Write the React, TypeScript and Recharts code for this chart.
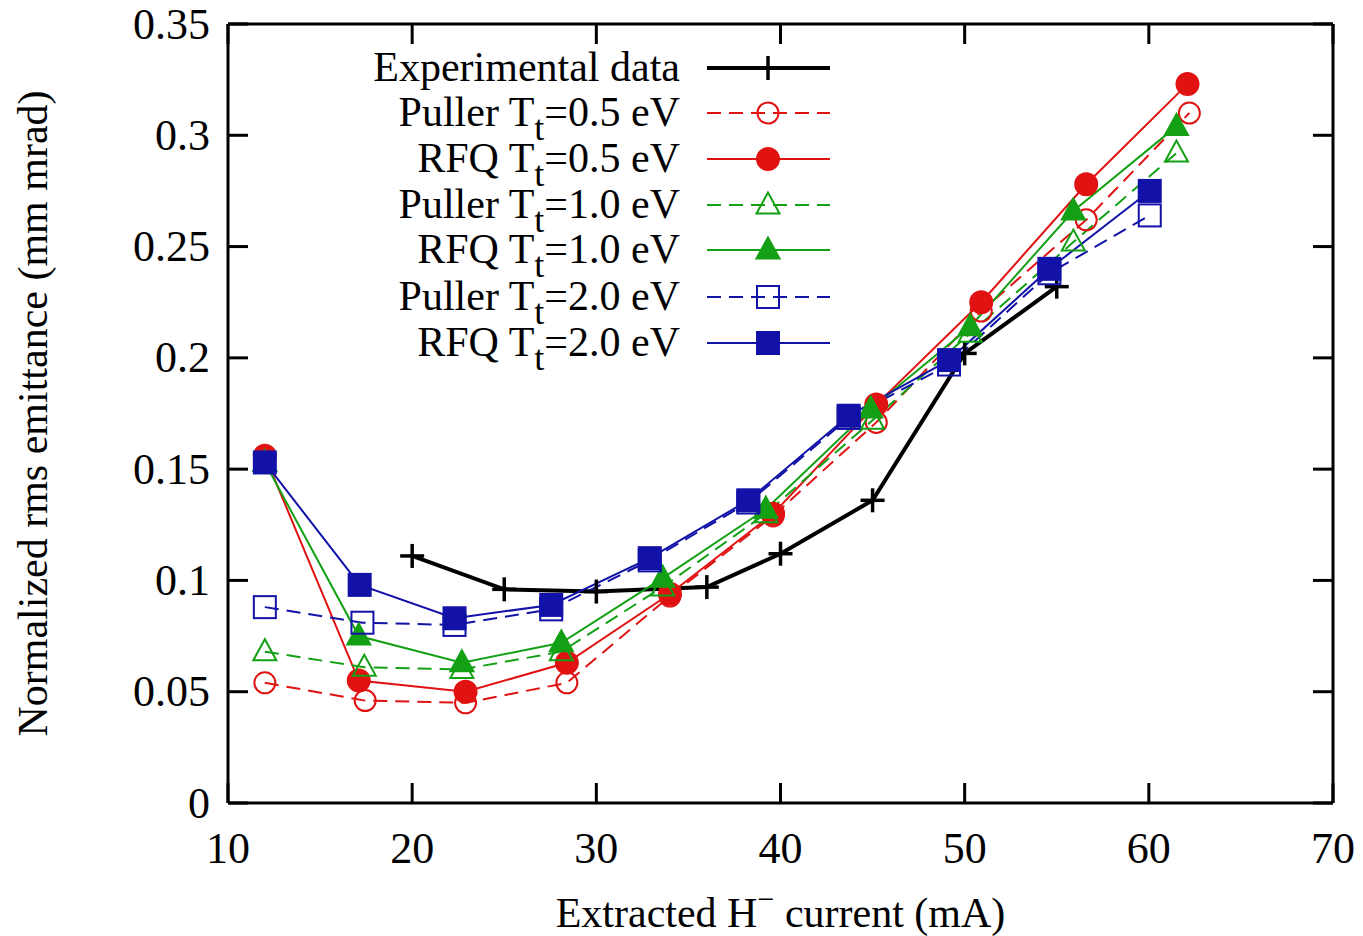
import React from "react";
import { Legend, Line, LineChart, XAxis, YAxis } from "recharts";

// x = extracted current (mA), y = normalized rms emittance (mm mrad)
const expX = [20, 25, 30, 36, 40, 45, 50, 55];
const expY = [0.111, 0.096, 0.095, 0.097, 0.112, 0.136, 0.202, 0.232];

const pullerHalfX = [12, 17.45, 22.9, 28.4, 34.0, 39.6, 45.2, 50.9, 56.6, 62.2];
const pullerHalfY = [0.054, 0.046, 0.045, 0.054, 0.093, 0.129, 0.171, 0.221, 0.262, 0.31];
const rfqHalfX = [12, 17.1, 22.9, 28.4, 34.0, 39.6, 45.2, 50.9, 56.6, 62.1];
const rfqHalfY = [0.156, 0.055, 0.05, 0.063, 0.094, 0.13, 0.179, 0.225, 0.278, 0.323];

const pullerOneX = [12, 17.4, 22.7, 28.1, 33.6, 39.2, 45.0, 50.3, 55.9, 61.5];
const pullerOneY = [0.068, 0.061, 0.06, 0.068, 0.097, 0.13, 0.172, 0.211, 0.252, 0.292];
const rfqOneX = [12, 17.1, 22.7, 28.1, 33.6, 39.2, 44.9, 50.3, 55.9, 61.5];
const rfqOneY = [0.153, 0.075, 0.063, 0.072, 0.101, 0.132, 0.177, 0.214, 0.266, 0.304];

const pullerTwoX = [12, 17.3, 22.3, 27.55, 32.9, 38.25, 43.7, 49.15, 54.6, 60.05];
const pullerTwoY = [0.088, 0.081, 0.08, 0.087, 0.109, 0.135, 0.173, 0.197, 0.238, 0.264];
const rfqTwoX = [12, 17.15, 22.3, 27.55, 32.9, 38.25, 43.7, 49.15, 54.6, 60.05];
const rfqTwoY = [0.153, 0.098, 0.083, 0.089, 0.11, 0.136, 0.174, 0.199, 0.24, 0.275];

const xTicks = [10, 20, 30, 40, 50, 60, 70];
const yTicks = [0, 0.05, 0.1, 0.15, 0.2, 0.25, 0.3, 0.35];

const RED = "#e01212";
const GREEN = "#14a014";
const BLUE = "#1212a8";
const FONT = "'Liberation Serif', 'Times New Roman', serif";
const FS = 44;
const TICK_LEN = 20;

const pts = (xs: number[], ys: number[]) => xs.map((x, i) => ({ x, y: ys[i] }));

type Shape = "plus" | "circle" | "triangle" | "square";

type SeriesDef = {
  name: string;
  sub?: string;
  rest?: string;
  xs: number[];
  ys: number[];
  color: string;
  dashed: boolean;
  shape: Shape;
  filled: boolean;
  width: number;
};

const series: SeriesDef[] = [
  { name: "Experimental data", xs: expX, ys: expY, color: "#000", dashed: false, shape: "plus", filled: false, width: 4 },
  { name: "Puller T", sub: "t", rest: "=0.5 eV", xs: pullerHalfX, ys: pullerHalfY, color: RED, dashed: true, shape: "circle", filled: false, width: 2 },
  { name: "RFQ T", sub: "t", rest: "=0.5 eV", xs: rfqHalfX, ys: rfqHalfY, color: RED, dashed: false, shape: "circle", filled: true, width: 2 },
  { name: "Puller T", sub: "t", rest: "=1.0 eV", xs: pullerOneX, ys: pullerOneY, color: GREEN, dashed: true, shape: "triangle", filled: false, width: 2 },
  { name: "RFQ T", sub: "t", rest: "=1.0 eV", xs: rfqOneX, ys: rfqOneY, color: GREEN, dashed: false, shape: "triangle", filled: true, width: 2 },
  { name: "Puller T", sub: "t", rest: "=2.0 eV", xs: pullerTwoX, ys: pullerTwoY, color: BLUE, dashed: true, shape: "square", filled: false, width: 2 },
  { name: "RFQ T", sub: "t", rest: "=2.0 eV", xs: rfqTwoX, ys: rfqTwoY, color: BLUE, dashed: false, shape: "square", filled: true, width: 2 },
];

function Marker({ cx, cy, shape, color, filled }: { cx: number; cy: number; shape: Shape; color: string; filled: boolean }) {
  const fill = filled ? color : "#fff";
  const fillOpacity = filled ? 1 : 0;
  if (shape === "plus") {
    return (
      <g stroke={color} strokeWidth={3.5}>
        <line x1={cx - 12} y1={cy} x2={cx + 12} y2={cy} />
        <line x1={cx} y1={cy - 12} x2={cx} y2={cy + 12} />
      </g>
    );
  }
  if (shape === "circle") {
    return <circle cx={cx} cy={cy} r={filled ? 11 : 10.5} fill={fill} fillOpacity={fillOpacity} stroke={color} strokeWidth={2} />;
  }
  if (shape === "triangle") {
    const h = 10.5;
    return (
      <polygon
        points={`${cx},${cy - h - 2} ${cx - 11.5},${cy + h - 2} ${cx + 11.5},${cy + h - 2}`}
        fill={fill}
        fillOpacity={fillOpacity}
        stroke={color}
        strokeWidth={2}
      />
    );
  }
  return <rect x={cx - 11} y={cy - 11} width={22} height={22} fill={fill} fillOpacity={fillOpacity} stroke={color} strokeWidth={2} />;
}

const makeDot = (s: SeriesDef) => (props: any) => {
  const { cx, cy, index } = props;
  if (cx == null || cy == null) return <g key={`e${index}`} />;
  return (
    <g key={`d${index}`}>
      <Marker cx={cx} cy={cy} shape={s.shape} color={s.color} filled={s.filled} />
    </g>
  );
};

const BottomTick = (props: any) => {
  const { x, y, payload } = props;
  return (
    <g>
      <line x1={x} y1={y} x2={x} y2={y - TICK_LEN} stroke="#000" strokeWidth={3} />
      <text x={x} y={y + 45} textAnchor="middle" dominantBaseline="central" fontFamily={FONT} fontSize={FS} fill="#000">
        {payload.value}
      </text>
    </g>
  );
};

const TopTick = (props: any) => {
  const { x, y } = props;
  return <line x1={x} y1={y} x2={x} y2={y + TICK_LEN} stroke="#000" strokeWidth={3} />;
};

const LeftTick = (props: any) => {
  const { x, y, payload } = props;
  const v = Math.round(payload.value * 100) / 100;
  return (
    <g>
      <line x1={x} y1={y} x2={x + TICK_LEN} y2={y} stroke="#000" strokeWidth={3} />
      <text x={x - 18} y={y} textAnchor="end" dominantBaseline="central" fontFamily={FONT} fontSize={FS} fill="#000">
        {String(v)}
      </text>
    </g>
  );
};

const RightTick = (props: any) => {
  const { x, y } = props;
  return <line x1={x} y1={y} x2={x - TICK_LEN} y2={y} stroke="#000" strokeWidth={3} />;
};

const YLabel = (props: any) => {
  const vb = props.viewBox;
  const cx = vb.x + 33;
  const cy = vb.y + vb.height / 2;
  return (
    <text
      x={cx}
      y={cy}
      transform={`rotate(-90 ${cx} ${cy})`}
      textAnchor="middle"
      dominantBaseline="central"
      fontFamily={FONT}
      fontSize={FS - 2}
      fill="#000"
    >
      Normalized rms emittance (mm mrad)
    </text>
  );
};

const XLabel = (props: any) => {
  const vb = props.viewBox;
  const cx = vb.x + vb.width / 2;
  return (
    <text x={cx} y={vb.y + 124} textAnchor="middle" fontFamily={FONT} fontSize={FS - 2} fill="#000">
      Extracted H
      <tspan dy={-18} fontSize={30}>
        −
      </tspan>
      <tspan dy={18}> current (mA)</tspan>
    </text>
  );
};

function LegendBox() {
  const rowY = [68, 113, 159, 205, 250, 297, 343];
  return (
    <svg width={1363} height={380} style={{ display: "block" }}>
      {series.map((s, i) => {
        const y = rowY[i];
        return (
          <g key={i}>
            <text x={680} y={y + 13} textAnchor="end" fontFamily={FONT} fontSize={FS - 2} fill="#000">
              {s.name}
              {s.sub ? (
                <>
                  <tspan dy={14} fontSize={36}>
                    {s.sub}
                  </tspan>
                  <tspan dy={-14}>{s.rest}</tspan>
                </>
              ) : null}
            </text>
            <line
              x1={707}
              y1={y}
              x2={830}
              y2={y}
              stroke={s.color}
              strokeWidth={s.width === 4 ? 4 : 2}
              strokeDasharray={s.dashed ? "14 8" : undefined}
            />
            <Marker cx={768} cy={y} shape={s.shape} color={s.color} filled={s.filled} />
          </g>
        );
      })}
    </svg>
  );
}

const expPts = pts(expX, expY);

export default function App() {
  return (
    <div style={{ position: "absolute", left: 0, top: 0, width: 1363, height: 936, background: "#fff" }}>
      <LineChart width={1363} height={936} margin={{ top: 23, right: 29, bottom: 0, left: 0 }}>
        <XAxis
          xAxisId="b"
          type="number"
          dataKey="x"
          domain={[10, 70]}
          ticks={xTicks}
          allowDataOverflow
          height={133}
          tickSize={0}
          tickMargin={0}
          tickLine={false}
          tick={<BottomTick />}
          axisLine={{ stroke: "#000", strokeWidth: 3 }}
          label={<XLabel />}
        />
        <XAxis
          xAxisId="t"
          orientation="top"
          type="number"
          dataKey="x"
          domain={[10, 70]}
          ticks={xTicks}
          allowDataOverflow
          height={1}
          tickSize={0}
          tickMargin={0}
          tickLine={false}
          tick={<TopTick />}
          axisLine={{ stroke: "#000", strokeWidth: 3 }}
        />
        <YAxis
          yAxisId="l"
          type="number"
          domain={[0, 0.35]}
          ticks={yTicks}
          allowDataOverflow
          width={228}
          tickSize={0}
          tickMargin={0}
          tickLine={false}
          tick={<LeftTick />}
          axisLine={{ stroke: "#000", strokeWidth: 3 }}
          label={<YLabel />}
        />
        <YAxis
          yAxisId="r"
          orientation="right"
          type="number"
          domain={[0, 0.35]}
          ticks={yTicks}
          allowDataOverflow
          width={1}
          tickSize={0}
          tickMargin={0}
          tickLine={false}
          tick={<RightTick />}
          axisLine={{ stroke: "#000", strokeWidth: 3 }}
        />
        <Legend
          layout="vertical"
          align="center"
          verticalAlign="middle"
          content={() => <LegendBox />}
          wrapperStyle={{ left: 0, top: 0, width: 1363, height: 380 }}
        />
        {/* invisible series that binds the mirrored top/right axes */}
        <Line
          xAxisId="t"
          yAxisId="r"
          data={expPts}
          dataKey="y"
          stroke="none"
          dot={false}
          activeDot={false}
          isAnimationActive={false}
          legendType="none"
        />
        {series.map((s, i) => (
          <Line
            key={i}
            xAxisId="b"
            yAxisId="l"
            data={pts(s.xs, s.ys)}
            dataKey="y"
            type="linear"
            stroke={s.color}
            strokeWidth={s.width}
            strokeDasharray={s.dashed ? "14 8" : undefined}
            dot={makeDot(s)}
            activeDot={false}
            isAnimationActive={false}
            legendType="none"
          />
        ))}
      </LineChart>
    </div>
  );
}
